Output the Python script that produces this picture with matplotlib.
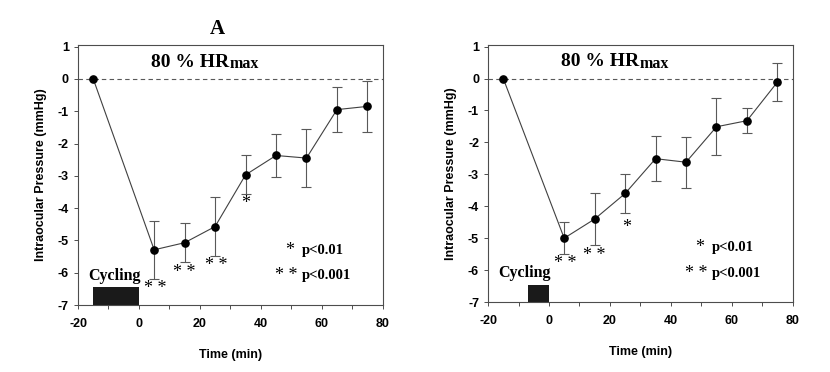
import matplotlib
matplotlib.use("Agg")
import matplotlib.pyplot as plt

plt.rcParams["axes.unicode_minus"] = False

# time points (min)
times = [-15, 5, 15, 25, 35, 45, 55, 65, 75]

# panel A
iop_a = [0, -5.29, -5.07, -4.57, -2.97, -2.37, -2.45, -0.95, -0.85]
err_a = [0, 0.9, 0.6, 0.9, 0.6, 0.68, 0.9, 0.7, 0.8]
stars_a = [(5.5, "* *", -6.5), (15, "* *", -6.0), (25.5, "* *", -5.77), (35, "*", -3.85)]
cyc_a = (-15, 0)

# panel B
iop_b = [0, -5.0, -4.4, -3.6, -2.51, -2.62, -1.51, -1.32, -0.11]
err_b = [0, 0.5, 0.8, 0.6, 0.7, 0.8, 0.9, 0.4, 0.6]
stars_b = [(5.5, "* *", -5.8), (15, "* *", -5.55), (25.5, "*", -4.65)]
cyc_b = (-7, 0)

SERIF = ["Liberation Serif", "DejaVu Serif"]
SANS = ["Liberation Sans", "DejaVu Sans"]

fig = plt.figure(figsize=(8.3, 3.72), dpi=100)
fig.patch.set_facecolor("white")


def panel(rect, y, e, stars, cyc):
    ax = fig.add_axes(rect)
    ax.set_xlim(-20, 80)
    ax.set_ylim(-7, 1.05)
    ax.axhline(0, color="0.35", lw=0.8, ls=(0, (4, 3)), zorder=1)
    ax.errorbar(times, y, yerr=e, color="0.25", lw=0.8, marker="o", ms=5.2,
                mfc="k", mec="k", ecolor="0.35", elinewidth=0.8, capsize=3.5,
                capthick=0.8, zorder=3)
    ax.bar((cyc[0] + cyc[1]) / 2, 0.55, width=cyc[1] - cyc[0], bottom=-7,
           color="#1a1a1a", zorder=2)
    ax.text(-8, -6.1, "Cycling", fontsize=11.5, fontweight="bold",
            family=SERIF, ha="center", va="center")
    for x, s, yy in stars:
        ax.text(x, yy, s, fontsize=13, family=SERIF, ha="center", va="center")
    ax.text(49.5, -5.3, "*", fontsize=13, family=SERIF, ha="center", va="center")
    ax.text(53.5, -5.3, "p<0.01", fontsize=10.5, fontweight="bold",
            family=SERIF, ha="left", va="center")
    ax.text(48.5, -6.1, "* *", fontsize=13, family=SERIF, ha="center", va="center")
    ax.text(53.5, -6.1, "p<0.001", fontsize=10.5, fontweight="bold",
            family=SERIF, ha="left", va="center")
    ax.text(29.5, 0.52, "80 % HR", fontsize=14, fontweight="bold",
            family=SERIF, ha="right", va="center")
    ax.text(29.8, 0.47, "max", fontsize=11.5, fontweight="bold",
            family=SERIF, ha="left", va="center")
    ax.set_xticks(range(-20, 81, 20))
    ax.set_xticks(range(-20, 81, 10), minor=True)
    ax.set_yticks(range(-7, 2))
    ax.tick_params(axis="both", which="both", direction="out", length=3,
                   width=0.7, color="0.3", labelsize=9)
    ax.tick_params(axis="x", pad=6)
    for lab in ax.get_xticklabels() + ax.get_yticklabels():
        lab.set_fontweight("bold")
        lab.set_family(SANS)
    for sp in ax.spines.values():
        sp.set_linewidth(0.8)
        sp.set_color("0.3")
    ax.set_xlabel("Time (min)", fontsize=9, fontweight="bold", family=SANS,
                  labelpad=14)
    ax.set_ylabel("Intraocular Pressure (mmHg)", fontsize=9,
                  fontweight="bold", family=SANS, labelpad=8)
    return ax


ax_a = panel([0.094, 0.180, 0.367, 0.699], iop_a, err_a, stars_a, cyc_a)
panel([0.588, 0.188, 0.367, 0.691], iop_b, err_b, stars_b, cyc_b)

fig.text(217 / 830, 1 - 29 / 372, "A", fontsize=15, fontweight="bold",
         family=SERIF, ha="center", va="center")

fig.savefig("out.png", dpi=100, facecolor="white")
